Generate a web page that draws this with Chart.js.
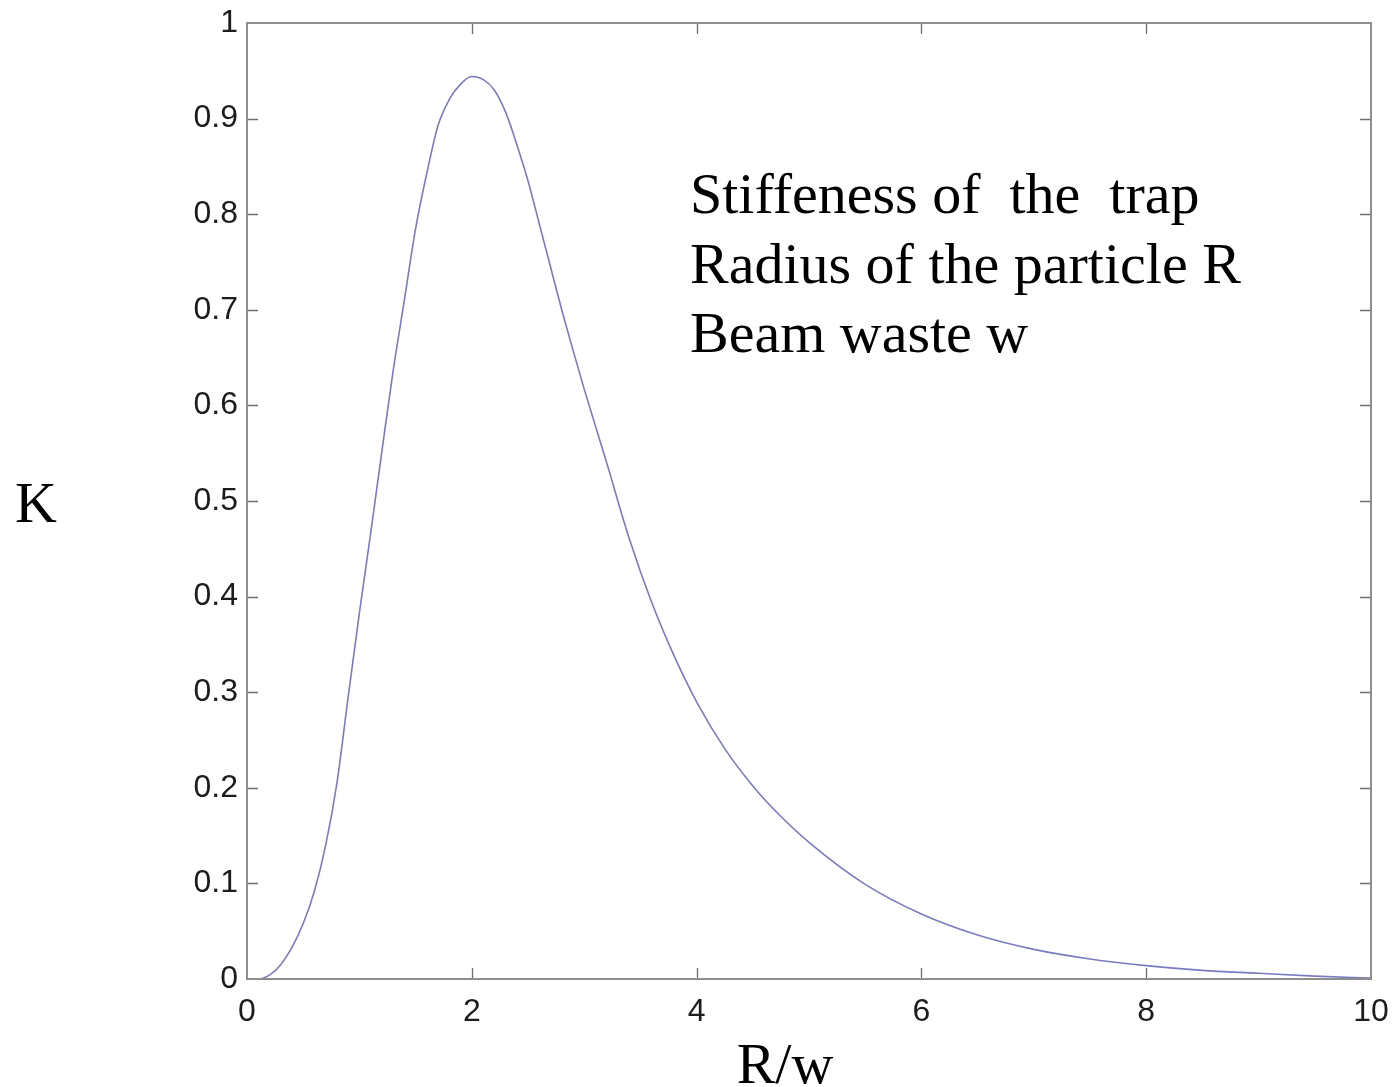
<!DOCTYPE html>
<html>
<head>
<meta charset="utf-8">
<title>Stiffness of the trap</title>
<script src="https://cdn.jsdelivr.net/npm/chart.js@4"></script>
<style>
  html, body { margin: 0; padding: 0; background: #ffffff; }
  #wrap { width: 1394px; height: 1087px; }
</style>
</head>
<body>
<div id="wrap"><canvas id="chart" width="1394" height="1087"></canvas></div>
<script>
// R/w values (particle radius over beam waist)
const ratio = [
  0, 0.1, 0.2, 0.3, 0.4, 0.5, 0.6, 0.7, 0.8, 0.9,
  1.0, 1.1, 1.2, 1.3, 1.4, 1.5, 1.6, 1.7, 1.8, 1.9,
  2.0, 2.1, 2.2, 2.3, 2.4, 2.5, 2.6, 2.7, 2.8, 2.9,
  3.0, 3.2, 3.4, 3.6, 3.8, 4.0, 4.25, 4.5, 4.75, 5.0,
  5.5, 6.0, 6.5, 7.0, 7.5, 8.0, 8.5, 9.0, 9.5, 10
];

// Trap stiffness K at each R/w
const stiffness = [
  0, 0.000, 0.004, 0.015, 0.033, 0.058, 0.092, 0.140, 0.205, 0.295,
  0.383, 0.466, 0.552, 0.636, 0.710, 0.785, 0.843, 0.893, 0.920, 0.936,
  0.944, 0.941, 0.930, 0.907, 0.873, 0.835, 0.790, 0.745, 0.700, 0.658,
  0.617, 0.540, 0.461, 0.394, 0.338, 0.290, 0.241, 0.202, 0.170, 0.143,
  0.099, 0.068, 0.046, 0.031, 0.021, 0.014, 0.009, 0.006, 0.003, 0.001
];

const xTickValues = [0, 2, 4, 6, 8, 10];
const yTickValues = [0, 0.1, 0.2, 0.3, 0.4, 0.5, 0.6, 0.7, 0.8, 0.9, 1];

const xTitle = 'R/w';
const yTitle = 'K';
const noteLines = [
  'Stiffeness of  the  trap',
  'Radius of the particle R',
  'Beam waste w'
];

const sansFamily = '"Liberation Sans", Arial, sans-serif';
const serifFont = '58px "Liberation Serif", "Times New Roman", serif';
const fmt = v => String(Math.round(v * 10) / 10);

// Box around the plot area with inward tick marks on all four sides
const frame = {
  id: 'frame',
  afterDatasetsDraw(chart) {
    const { ctx, chartArea: { left, right, top, bottom }, scales: { x, y } } = chart;
    const len = 11;
    ctx.save();
    ctx.strokeStyle = '#6f6f6f';
    ctx.lineWidth = 1.3;
    ctx.beginPath();
    x.ticks.forEach(t => {
      const px = Math.round(x.getPixelForValue(t.value)) + 0.5;
      if (px <= left + 2 || px >= right - 2) return;
      ctx.moveTo(px, bottom); ctx.lineTo(px, bottom - len);
      ctx.moveTo(px, top); ctx.lineTo(px, top + len);
    });
    y.ticks.forEach(t => {
      const py = Math.round(y.getPixelForValue(t.value)) + 0.5;
      if (py <= top + 2 || py >= bottom - 2) return;
      ctx.moveTo(left, py); ctx.lineTo(left + len, py);
      ctx.moveTo(right, py); ctx.lineTo(right - len, py);
    });
    ctx.stroke();
    ctx.strokeStyle = '#8e8e8e';
    ctx.lineWidth = 2;
    ctx.strokeRect(left, top, right - left, bottom - top);
    ctx.restore();
  }
};

// Axis titles and the note inside the plot, set in a serif face
const captions = {
  id: 'captions',
  afterDraw(chart) {
    const { ctx, scales: { y } } = chart;
    ctx.save();
    ctx.fillStyle = '#000000';
    ctx.font = serifFont;
    ctx.textBaseline = 'alphabetic';
    ctx.textAlign = 'center';
    ctx.fillText(yTitle, 36, y.getPixelForValue(0.5) + 21);
    ctx.fillText(xTitle, 785, 1083);
    ctx.textAlign = 'left';
    const lineGap = 69.5;
    noteLines.forEach((line, i) => {
      ctx.fillText(line, 690, 213 + i * lineGap);
    });
    ctx.restore();
  }
};

new Chart(document.getElementById('chart'), {
  type: 'line',
  data: {
    datasets: [{
      data: ratio.map((r, i) => ({ x: r, y: stiffness[i] })),
      borderColor: '#7b7bc2',
      borderWidth: 1.6,
      pointRadius: 0,
      fill: false,
      cubicInterpolationMode: 'monotone'
    }]
  },
  options: {
    responsive: false,
    animation: false,
    devicePixelRatio: 1,
    layout: { padding: { top: 23, right: 23, left: 0, bottom: 0 } },
    plugins: { legend: { display: false }, tooltip: { enabled: false } },
    scales: {
      x: {
        type: 'linear',
        min: 0,
        max: 10,
        afterBuildTicks(scale) { scale.ticks = xTickValues.map(v => ({ value: v })); },
        afterFit(scale) { scale.height = 108; },
        grid: { display: false, drawTicks: false },
        border: { display: false },
        ticks: {
          font: { family: sansFamily, size: 32, lineHeight: 2.05 },
          color: '#1c1c1c',
          padding: 0,
          maxRotation: 0,
          autoSkip: false,
          callback: fmt
        }
      },
      y: {
        type: 'linear',
        min: 0,
        max: 1,
        afterBuildTicks(scale) { scale.ticks = yTickValues.map(v => ({ value: v })); },
        afterFit(scale) { scale.width = 247; },
        grid: { display: false, drawTicks: false },
        border: { display: false },
        ticks: {
          font: { family: sansFamily, size: 32, lineHeight: 0.8 },
          color: '#1c1c1c',
          padding: 9,
          autoSkip: false,
          callback: fmt
        }
      }
    }
  },
  plugins: [frame, captions]
});
</script>
</body>
</html>
